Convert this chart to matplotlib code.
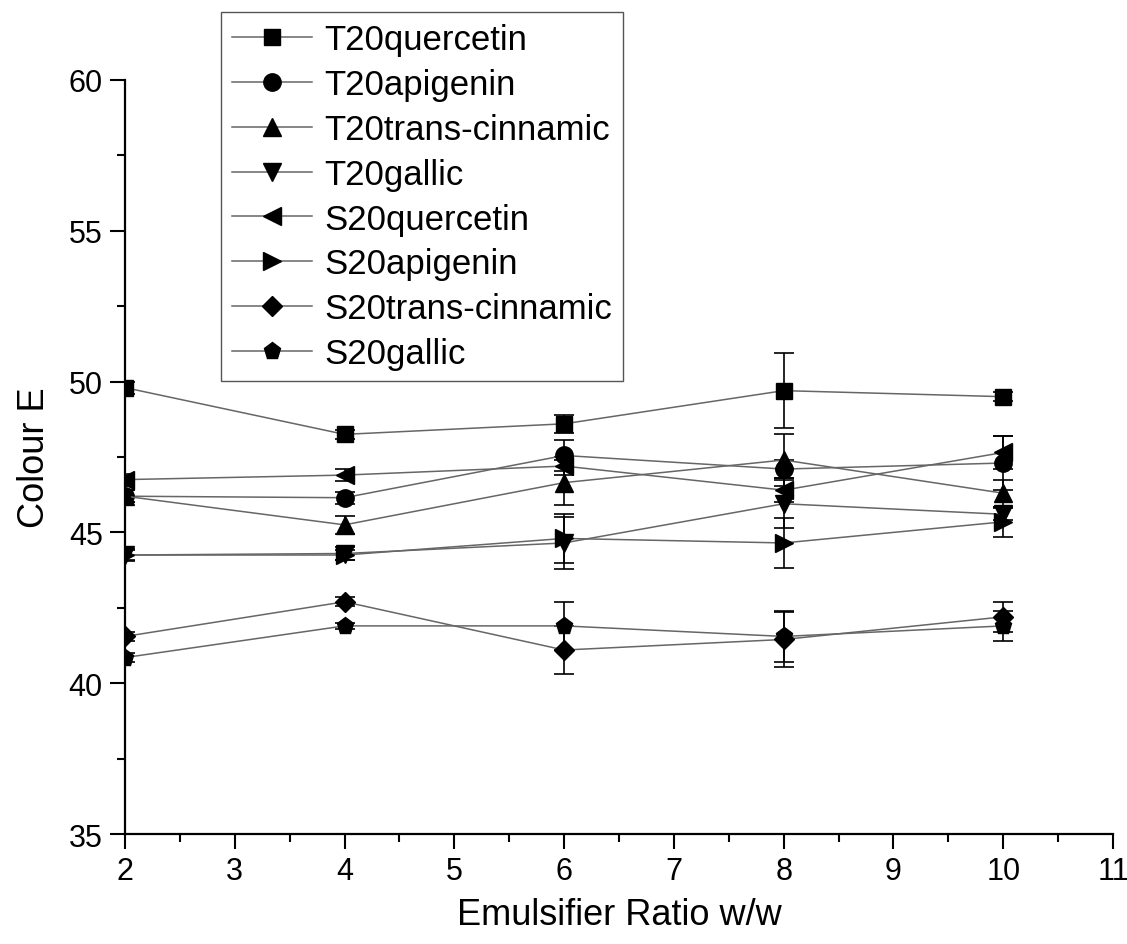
import matplotlib
matplotlib.use("Agg")
import matplotlib.pyplot as plt
from matplotlib.ticker import MultipleLocator

plt.rcParams['font.family'] = ['Liberation Sans', 'DejaVu Sans']

ratio = [2, 4, 6, 8, 10]

series_names = ["T20quercetin", "T20apigenin", "T20trans-cinnamic", "T20gallic",
                "S20quercetin", "S20apigenin", "S20trans-cinnamic", "S20gallic"]

t20_quercetin = [49.8, 48.25, 48.6, 49.7, 49.5]
t20_apigenin = [46.2, 46.15, 47.55, 47.1, 47.3]
t20_cinnamic = [46.2, 45.25, 46.65, 47.4, 46.3]
t20_gallic = [44.25, 44.3, 44.65, 45.95, 45.6]
s20_quercetin = [46.75, 46.9, 47.2, 46.4, 47.65]
s20_apigenin = [44.25, 44.25, 44.8, 44.65, 45.35]
s20_cinnamic = [41.55, 42.7, 41.1, 41.45, 42.2]
s20_gallic = [40.85, 41.9, 41.9, 41.55, 41.9]

t20_quercetin_err = [0.2, 0.15, 0.3, 1.25, 0.15]
t20_apigenin_err = [0.2, 0.2, 0.5, 0.3, 0.9]
t20_cinnamic_err = [0.2, 0.3, 0.75, 0.85, 0.45]
t20_gallic_err = [0.2, 0.2, 0.85, 0.8, 0.2]
s20_quercetin_err = [0.2, 0.2, 0.3, 0.4, 0.55]
s20_apigenin_err = [0.15, 0.15, 0.8, 0.83, 0.5]
s20_cinnamic_err = [0.15, 0.15, 0.8, 0.9, 0.5]
s20_gallic_err = [0.15, 0.1, 0.8, 0.85, 0.5]

values = [t20_quercetin, t20_apigenin, t20_cinnamic, t20_gallic,
          s20_quercetin, s20_apigenin, s20_cinnamic, s20_gallic]
errors = [t20_quercetin_err, t20_apigenin_err, t20_cinnamic_err, t20_gallic_err,
          s20_quercetin_err, s20_apigenin_err, s20_cinnamic_err, s20_gallic_err]
markers = ["s", "o", "^", "v", "<", ">", "D", "p"]
marker_sizes = [11.5, 12.5, 12.5, 12.5, 12.5, 12.5, 10.5, 12.5]

fig = plt.figure(figsize=(11.27, 9.45), dpi=100)
ax = fig.add_axes([0.1109, 0.1164, 0.8767, 0.7979])

for name, y, err, m, ms in zip(series_names, values, errors, markers, marker_sizes):
    ax.errorbar(ratio, y, yerr=err, fmt="none", ecolor="black", elinewidth=1.2,
                capsize=7, capthick=1.2, zorder=2)
    ax.plot(ratio, y, color="#666666", linewidth=1.1, marker=m, markersize=ms,
            markerfacecolor="black", markeredgecolor="black", label=name, zorder=3)

ax.set_xlim(2, 11)
ax.set_ylim(35, 60)
ax.xaxis.set_major_locator(MultipleLocator(1))
ax.xaxis.set_minor_locator(MultipleLocator(0.5))
ax.yaxis.set_major_locator(MultipleLocator(5))
ax.yaxis.set_minor_locator(MultipleLocator(2.5))

for side in ("top", "right"):
    ax.spines[side].set_visible(False)
for side in ("left", "bottom"):
    ax.spines[side].set_linewidth(1.6)

ax.tick_params(which="major", direction="out", length=11, width=1.5, labelsize=22, pad=5)
ax.tick_params(which="minor", direction="out", length=6, width=1.5)

ax.set_xlabel("Emulsifier Ratio w/w", fontsize=26, labelpad=8)
ax.set_ylabel("Colour E", fontsize=26, labelpad=12)

leg = ax.legend(loc="upper left", bbox_to_anchor=(0.196, 0.986),
                bbox_transform=fig.transFigure, fontsize=25, frameon=True,
                fancybox=False, edgecolor="#555555", framealpha=1,
                borderaxespad=0, handlelength=2.3, handletextpad=0.35,
                labelspacing=0.34, borderpad=0.32)
leg.get_frame().set_linewidth(1.0)

fig.savefig("out.png", dpi=100, facecolor="white")
